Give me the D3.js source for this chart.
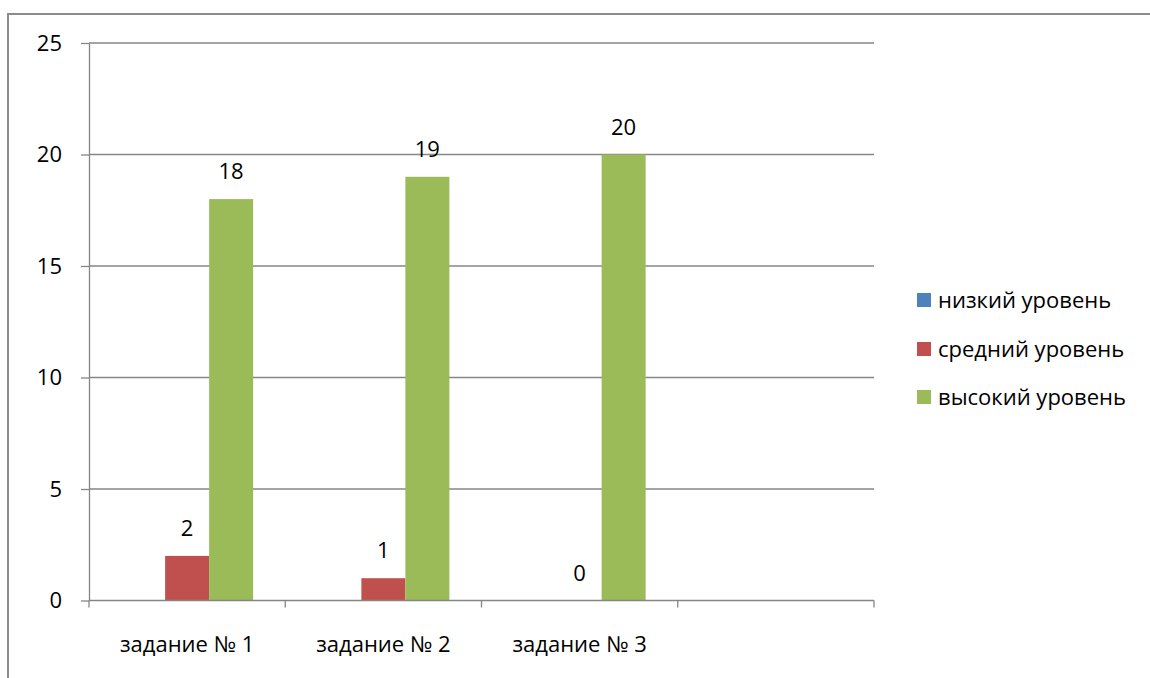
<!DOCTYPE html>
<html><head><meta charset="utf-8">
<script src="https://cdn.jsdelivr.net/npm/d3@7"></script>
<style>body{margin:0;background:#fff}svg{display:block}</style>
</head><body><svg id="c" width="1150" height="678"></svg>
<script>
const categories = ["задание № 1", "задание № 2", "задание № 3", ""];
const seriesNames = ["низкий уровень", "средний уровень", "высокий уровень"];
const seriesColors = ["#4F81BD", "#C0504D", "#9BBB59"];
const lowValues = [null, null, null, null];
const midValues = [2, 1, 0, null];
const highValues = [18, 19, 20, null];
const yTicks = [0, 5, 10, 15, 20, 25];

const series = [lowValues, midValues, highValues];
const svg = d3.select("#c");
const FONT = "'Open Sans', 'Noto Sans', sans-serif";
const pLeft = 89, pRight = 874, pTop = 43, pBottom = 600.5;

// fit font size so category label width matches reference (~144px)
const probe = svg.append("text").attr("font-family", FONT).attr("font-size", 20).text(categories[0]);
const w = probe.node().getComputedTextLength();
probe.remove();
const FS = Math.max(16, Math.min(22, 20 * 144 / w));

// outer frame
svg.append("path").attr("d", "M8,678 V14 H1150").attr("fill", "none")
  .attr("stroke", "#8c8c8c").attr("stroke-width", 2);

const x = d3.scaleBand().domain(d3.range(categories.length)).range([pLeft, pRight]).paddingInner(0).paddingOuter(0);
const y = d3.scaleLinear().domain([0, 25]).range([pBottom, pTop]);
const inner = d3.scaleBand().domain(d3.range(series.length)).range([0, x.bandwidth()]).paddingOuter(0.73).paddingInner(0);

// gridlines
svg.append("g").selectAll("line").data(yTicks.filter(d => d > 0)).join("line")
  .attr("x1", pLeft).attr("x2", pRight).attr("y1", d => y(d)).attr("y2", d => y(d))
  .attr("stroke", "#868686").attr("stroke-width", 1.3);

// y axis
const yAxis = svg.append("g").attr("transform", `translate(${pLeft},0)`)
  .call(d3.axisLeft(y).tickValues(yTicks).tickSize(8).tickPadding(19).tickSizeOuter(0));
yAxis.select(".domain").attr("stroke", "#868686").attr("stroke-width", 1.3);
yAxis.selectAll(".tick line").attr("stroke", "#868686").attr("stroke-width", 1.3);
yAxis.selectAll("text").attr("font-family", FONT).attr("font-size", FS).attr("fill", "#000");

// bars
series.forEach((vals, si) => {
  const g = svg.append("g");
  vals.forEach((v, ci) => {
    if (v == null) return;
    const bx = x(ci) + inner(si);
    g.append("rect").attr("x", bx).attr("y", y(v)).attr("width", inner.bandwidth())
      .attr("height", y(0) - y(v)).attr("fill", seriesColors[si]);
    g.append("text").attr("x", bx + inner.bandwidth() / 2).attr("y", y(v) - 20)
      .attr("text-anchor", "middle").attr("font-family", FONT).attr("font-size", FS)
      .attr("fill", "#000").text(v);
  });
});

// x axis
const xAxis = svg.append("g").attr("transform", `translate(0,${pBottom})`)
  .call(d3.axisBottom(x).tickFormat(i => categories[i]).tickSize(0).tickPadding(36));
xAxis.select(".domain").remove();
xAxis.selectAll("text").attr("font-family", FONT).attr("font-size", FS).attr("fill", "#000");
svg.append("line").attr("x1", pLeft).attr("x2", pRight).attr("y1", pBottom).attr("y2", pBottom)
  .attr("stroke", "#868686").attr("stroke-width", 1.3);
const bounds = d3.range(categories.length + 1).map(i => i < categories.length ? x(i) : pRight);
svg.append("g").selectAll("line").data(bounds).join("line")
  .attr("x1", d => d).attr("x2", d => d).attr("y1", pBottom).attr("y2", pBottom + 7)
  .attr("stroke", "#868686").attr("stroke-width", 1.3);

// legend
const lg = svg.append("g").attr("transform", "translate(917,0)");
const rowsY = [300, 349, 397];
seriesNames.forEach((n, i) => {
  lg.append("rect").attr("x", 0).attr("y", rowsY[i] - 7).attr("width", 14).attr("height", 14).attr("fill", seriesColors[i]);
  lg.append("text").attr("x", 21).attr("y", rowsY[i]).attr("dy", "0.35em").attr("font-family", FONT).attr("font-size", FS)
    .attr("fill", "#000").text(n);
});
</script></body></html>
